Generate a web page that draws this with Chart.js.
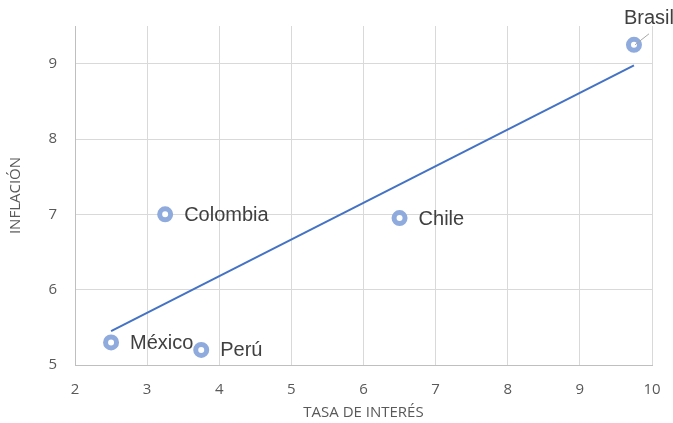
<!DOCTYPE html>
<html>
<head>
<meta charset="utf-8">
<script src="https://cdn.jsdelivr.net/npm/chart.js@4/dist/chart.umd.min.js"></script>
<style>
  html, body { margin: 0; padding: 0; background: #ffffff; }
  #wrap { width: 673px; height: 423px; position: relative; }
</style>
</head>
<body>
<div id="wrap"><canvas id="chart"></canvas></div>
<script>
// Countries and their interest rate / inflation pairs
const countries = ['México', 'Perú', 'Colombia', 'Chile', 'Brasil'];
const interestRate = [2.5, 3.75, 3.25, 6.5, 9.75];
const inflation = [5.3, 5.2, 7.0, 6.95, 9.25];

const points = countries.map((c, i) => ({ x: interestRate[i], y: inflation[i] }));

// Least-squares linear trend across the observed range
function linearTrend(xs, ys) {
  const n = xs.length;
  const mx = xs.reduce((a, b) => a + b, 0) / n;
  const my = ys.reduce((a, b) => a + b, 0) / n;
  let sxy = 0, sxx = 0;
  for (let i = 0; i < n; i++) {
    sxy += (xs[i] - mx) * (ys[i] - my);
    sxx += (xs[i] - mx) * (xs[i] - mx);
  }
  const slope = sxy / sxx;
  const icpt = my - slope * mx;
  const x0 = Math.min(...xs), x1 = Math.max(...xs);
  return [{ x: x0, y: icpt + slope * x0 }, { x: x1, y: icpt + slope * x1 }];
}
const trend = linearTrend(interestRate, inflation);

// Data labels beside each marker; Brasil sits above with a leader line
const pointLabels = {
  id: 'pointLabels',
  afterDatasetsDraw(chart) {
    const ctx = chart.ctx;
    const meta = chart.getDatasetMeta(0);
    ctx.save();
    ctx.font = '20px "Liberation Sans", Arial, sans-serif';
    ctx.fillStyle = '#404040';
    meta.data.forEach((el, i) => {
      const name = countries[i];
      ctx.textAlign = 'left';
      ctx.textBaseline = 'middle';
      if (name === 'Brasil') {
        ctx.strokeStyle = '#A6A6A6';
        ctx.lineWidth = 1;
        ctx.beginPath();
        ctx.moveTo(el.x + 1, el.y);
        ctx.lineTo(el.x + 15, el.y - 11);
        ctx.stroke();
        ctx.fillText(name, el.x - 10, el.y - 26);
      } else {
        ctx.fillText(name, el.x + 19, el.y + 1);
      }
    });
    ctx.restore();
  }
};

const tickFont = { family: '"Open Sans", sans-serif', size: 15 };
const titleFont = { family: '"Open Sans", sans-serif', size: 15 };

new Chart(document.getElementById('chart'), {
  type: 'scatter',
  data: {
    datasets: [
      {
        label: 'Inflación',
        data: points,
        pointRadius: 5.5,
        pointHoverRadius: 5.5,
        pointBorderWidth: 5,
        pointBackgroundColor: '#ffffff',
        pointBorderColor: '#8FAADC',
        order: 1
      },
      {
        label: 'Tendencia',
        data: trend,
        showLine: true,
        borderColor: '#4472C4',
        borderWidth: 2,
        pointRadius: 0,
        fill: false,
        order: 2
      }
    ]
  },
  options: {
    responsive: true,
    maintainAspectRatio: false,
    animation: false,
    events: [],
    layout: { padding: { top: 26, right: 21, left: 0, bottom: 0 } },
    plugins: {
      legend: { display: false },
      tooltip: { enabled: false }
    },
    scales: {
      x: {
        type: 'linear',
        min: 2,
        max: 10,
        afterFit(scale) {
          scale.height = 58;
          scale.paddingLeft = 0;
          scale.paddingRight = 0;
        },
        ticks: { stepSize: 1, color: '#595959', font: tickFont, padding: 16, maxRotation: 0 },
        grid: { color: '#D9D9D9', lineWidth: 1, drawTicks: false },
        border: { color: '#BFBFBF', width: 1 },
        title: {
          display: true,
          text: 'TASA DE INTERÉS',
          color: '#595959',
          font: titleFont,
          padding: { top: 0, bottom: 1 }
        }
      },
      y: {
        type: 'linear',
        min: 5,
        max: 9.5,
        afterFit(scale) {
          scale.width = 75;
          scale.paddingTop = 0;
          scale.paddingBottom = 0;
        },
        ticks: { stepSize: 1, includeBounds: false, color: '#595959', font: tickFont, padding: 18 },
        grid: { color: '#D9D9D9', lineWidth: 1, drawTicks: false },
        border: { color: '#BFBFBF', width: 1 },
        title: {
          display: true,
          text: 'INFLACIÓN',
          color: '#595959',
          font: titleFont,
          padding: { top: 7, bottom: 0 }
        }
      }
    }
  },
  plugins: [pointLabels]
});
</script>
</body>
</html>
